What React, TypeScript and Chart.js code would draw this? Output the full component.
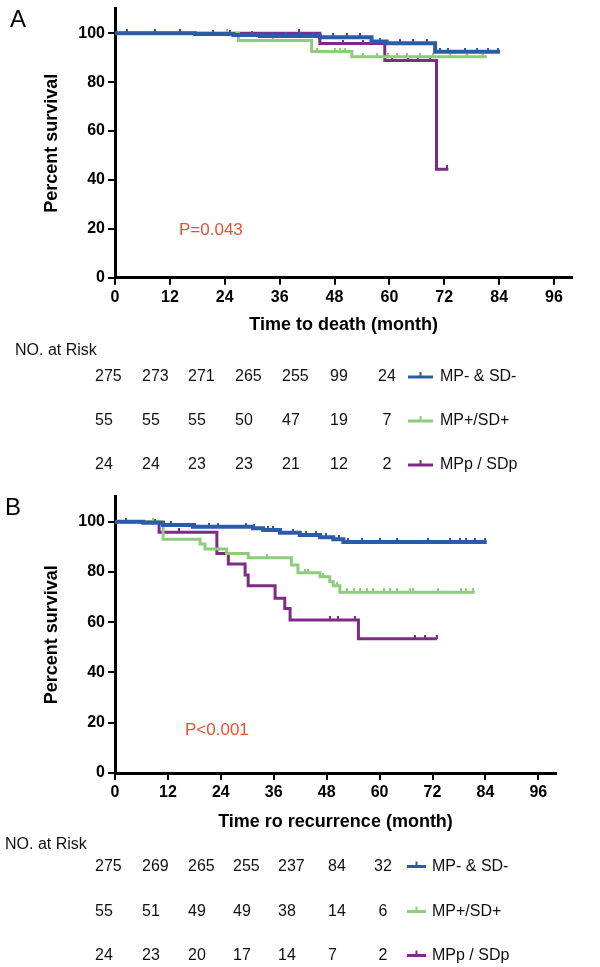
import React, { useEffect, useRef } from 'react';
import { Chart, registerables } from 'chart.js';
Chart.register(...registerables);

const FONT = '"Liberation Sans", Arial, Helvetica, sans-serif';

const GROUPS = ['MP- & SD-', 'MP+/SD+', 'MPp / SDp'];
const COLORS = ['#2C5CA8', '#8FCC7C', '#7D2B87'];
const X_TICKS = [0, 12, 24, 36, 48, 60, 72, 84, 96];
const Y_TICKS = [0, 20, 40, 60, 80, 100];

// ---------- Panel A: time to death ----------
const A_BLUE_T = [0, 17.5, 25.9, 31.7, 44.8, 56.1, 59.4, 70.0, 84.2];
const A_BLUE_S = [100, 99.7, 99.3, 98.9, 98.4, 96.6, 95.9, 92.4, 92.4];
const A_BLUE_CENS = [2.6, 8.7, 21.5, 25.1, 29.9, 32.4, 34.6, 37.5, 40.5, 43.4, 47.7, 50.7, 53.6, 57.9, 62.3, 65.2, 68.2, 71.1, 72.9, 76.5, 79.1, 81.6, 83.8];

const A_GREEN_T = [0, 27.0, 43.0, 51.8, 81.3];
const A_GREEN_S = [100, 97.0, 92.5, 90.4, 90.4];
const A_GREEN_CENS = [24.5, 34.6, 44.1, 48.2, 49.3, 50.4, 54.3, 57.2, 59.8, 61.6, 63.8, 66.7, 69.6, 73.3, 76.9, 80.5];

const A_PURPLE_T = [0, 44.8, 59.0, 70.3, 72.9];
const A_PURPLE_S = [100, 95.8, 88.8, 44.4, 44.4];
const A_PURPLE_CENS = [14.2, 40.3, 49.9, 54.3, 60.5, 64.1, 66.3, 68.9, 72.5];

const A_RISK_BLUE = [275, 273, 271, 265, 255, 99, 24];
const A_RISK_GREEN = [55, 55, 55, 50, 47, 19, 7];
const A_RISK_PURPLE = [24, 24, 23, 23, 21, 12, 2];

// ---------- Panel B: time to recurrence ----------
const B_BLUE_T = [0, 6.4, 10.9, 17.7, 31.3, 33.6, 37.4, 41.9, 46.5, 49.5, 51.8, 84.3];
const B_BLUE_S = [100, 99.6, 98.7, 98.0, 97.4, 96.7, 95.6, 94.7, 93.8, 93.0, 91.9, 91.9];
const B_BLUE_CENS = [2.5, 9.0, 12.8, 18.1, 21.4, 23.3, 29.7, 31.6, 34.6, 35.8, 37.6, 40.3, 43.3, 45.6, 47.9, 50.9, 52.8, 56.0, 60.0, 64.0, 71.0, 75.9, 78.2, 79.7, 81.6, 83.9];

const B_GREEN_T = [0, 10.9, 19.3, 20.4, 25.3, 30.2, 40.0, 41.5, 46.5, 48.7, 49.5, 51.0, 81.6];
const B_GREEN_S = [100, 93.0, 91.1, 89.1, 87.4, 85.7, 82.8, 79.7, 78.1, 76.1, 74.5, 71.9, 71.9];
const B_GREEN_CENS = [8.7, 34.4, 43.1, 43.8, 47.2, 50.3, 52.6, 54.1, 55.6, 57.1, 58.6, 60.9, 62.4, 63.9, 66.9, 67.6, 73.3, 78.5, 79.7, 81.2];

const B_PURPLE_T = [0, 10.0, 23.1, 25.7, 29.5, 30.2, 36.3, 38.5, 39.7, 55.2, 73.0];
const B_PURPLE_S = [100, 95.8, 87.4, 83.2, 78.8, 74.5, 69.5, 65.5, 60.9, 53.4, 53.4];
const B_PURPLE_CENS = [14.4, 48.8, 50.6, 54.4, 68.0, 70.3, 73.0];

const B_RISK_BLUE = [275, 269, 265, 255, 237, 84, 32];
const B_RISK_GREEN = [55, 51, 49, 49, 38, 14, 6];
const B_RISK_PURPLE = [24, 23, 20, 17, 14, 7, 2];

// ---------- layout specs ----------
const PANEL_A = {
  curves: [
    { t: A_BLUE_T, s: A_BLUE_S, c: A_BLUE_CENS },
    { t: A_GREEN_T, s: A_GREEN_S, c: A_GREEN_CENS },
    { t: A_PURPLE_T, s: A_PURPLE_S, c: A_PURPLE_CENS },
  ],
  risk: [A_RISK_BLUE, A_RISK_GREEN, A_RISK_PURPLE],
  xTitle: 'Time to death (month)',
  pText: 'P=0.043',
  letter: 'A',
  height: 485,
  padding: { left: 41, right: 27.7, top: 8.8, bottom: 149.3 },
  xHeight: 58,
  yWidth: 74,
  annot: {
    letterX: 10, letterY: 27,
    pX: 179, pY: 230,
    riskLabelX: 15, riskLabelY: 351,
    rowY: [377, 421, 465],
    colLeft: [95, 142, 188, 235, 282, 330],
    lastColCenter: 387,
    legLine: [408, 433], legTextX: 440,
  },
};

const PANEL_B = {
  curves: [
    { t: B_BLUE_T, s: B_BLUE_S, c: B_BLUE_CENS },
    { t: B_GREEN_T, s: B_GREEN_S, c: B_GREEN_CENS },
    { t: B_PURPLE_T, s: B_PURPLE_S, c: B_PURPLE_CENS },
  ],
  risk: [B_RISK_BLUE, B_RISK_GREEN, B_RISK_PURPLE],
  xTitle: 'Time ro recurrence (month)',
  pText: 'P<0.001',
  letter: 'B',
  height: 482,
  padding: { left: 41, right: 44, top: 11.6, bottom: 134 },
  xHeight: 60,
  yWidth: 74,
  annot: {
    letterX: 5, letterY: 30,
    pX: 185, pY: 245.5,
    riskLabelX: 5, riskLabelY: 360,
    rowY: [381.5, 426.5, 470.5],
    colLeft: [95, 142, 188, 233, 278, 328],
    lastColCenter: 383,
    legLine: [407, 426], legTextX: 432,
  },
};

function survAt(t: number[], s: number[], x: number) {
  let v = s[0];
  for (let i = 0; i < t.length; i++) if (t[i] <= x) v = s[i];
  return v;
}

function tickImage(color: string) {
  const c = document.createElement('canvas');
  c.width = 2;
  c.height = 8;
  const g = c.getContext('2d')!;
  g.fillStyle = color;
  g.fillRect(0, 0, 2, 4);
  return c;
}

const annotPlugin = {
  id: 'kmAnnot',
  afterDraw(chart: any, _args: any, opts: any) {
    const ctx = chart.ctx as CanvasRenderingContext2D;
    const a = opts.annot;
    ctx.save();
    ctx.fillStyle = '#000';
    ctx.font = `24px ${FONT}`;
    ctx.textAlign = 'left';
    ctx.textBaseline = 'alphabetic';
    ctx.fillText(opts.letter, a.letterX, a.letterY);

    ctx.textBaseline = 'middle';
    ctx.fillStyle = '#E9502F';
    ctx.font = `17px ${FONT}`;
    ctx.fillText(opts.pText, a.pX, a.pY);

    ctx.fillStyle = '#111';
    ctx.font = `16px ${FONT}`;
    ctx.fillText('NO. at Risk', a.riskLabelX, a.riskLabelY);

    opts.risk.forEach((row: number[], r: number) => {
      const y = a.rowY[r];
      ctx.fillStyle = '#111';
      row.forEach((v, c) => {
        if (c < a.colLeft.length) {
          ctx.textAlign = 'left';
          ctx.fillText(String(v), a.colLeft[c], y);
        } else {
          ctx.textAlign = 'center';
          ctx.fillText(String(v), a.lastColCenter, y);
        }
      });
      // legend entry
      ctx.strokeStyle = COLORS[r];
      ctx.lineWidth = 3;
      ctx.beginPath();
      ctx.moveTo(a.legLine[0], y);
      ctx.lineTo(a.legLine[1], y);
      ctx.stroke();
      const mid = (a.legLine[0] + a.legLine[1]) / 2;
      ctx.lineWidth = 2;
      ctx.beginPath();
      ctx.moveTo(mid, y);
      ctx.lineTo(mid, y - 5);
      ctx.stroke();
      ctx.textAlign = 'left';
      ctx.fillStyle = '#111';
      ctx.fillText(GROUPS[r], a.legTextX, y);
    });
    ctx.restore();
  },
};

function makeConfig(p: any) {
  const datasets: any[] = [];
  p.curves.forEach((cv: any, i: number) => {
    datasets.push({
      label: GROUPS[i],
      data: cv.t.map((t: number, k: number) => ({ x: t, y: cv.s[k] })),
      borderColor: COLORS[i],
      backgroundColor: COLORS[i],
      borderWidth: i === 0 ? 4 : 3,
      stepped: 'before',
      pointRadius: 0,
      fill: false,
      tension: 0,
    });
    datasets.push({
      label: GROUPS[i] + ' censored',
      data: cv.c.map((t: number) => ({ x: t, y: survAt(cv.t, cv.s, t) })),
      showLine: false,
      pointStyle: tickImage(COLORS[i]),
      pointRadius: 3,
      borderWidth: 0,
    });
  });

  const gridOpts = {
    display: true,
    drawOnChartArea: false,
    drawTicks: true,
    tickLength: 7,
    color: '#000',
    lineWidth: 2,
  };
  const borderOpts = { display: true, color: '#000', width: 3 };
  const tickFont = { family: FONT, size: 16, weight: 'bold' as const };
  const titleFont = { family: FONT, size: 18, weight: 'bold' as const };

  return {
    type: 'line' as const,
    data: { datasets },
    plugins: [annotPlugin],
    options: {
      animation: false,
      responsive: false,
      devicePixelRatio: 1,
      layout: { padding: p.padding },
      plugins: {
        legend: { display: false },
        tooltip: { enabled: false },
        kmAnnot: { annot: p.annot, risk: p.risk, letter: p.letter, pText: p.pText },
      },
      scales: {
        x: {
          type: 'linear',
          min: 0,
          max: 100,
          afterBuildTicks: (s: any) => {
            s.ticks = X_TICKS.map((v) => ({ value: v }));
          },
          afterFit: (s: any) => {
            s.height = p.xHeight;
            s.paddingLeft = 0;
            s.paddingRight = 0;
          },
          grid: gridOpts,
          border: borderOpts,
          ticks: { font: tickFont, color: '#000', padding: 3, autoSkip: false, maxRotation: 0 },
          title: { display: true, text: p.xTitle, font: titleFont, color: '#000', padding: 0 },
        },
        y: {
          type: 'linear',
          min: 0,
          max: 110,
          afterBuildTicks: (s: any) => {
            s.ticks = Y_TICKS.map((v) => ({ value: v }));
          },
          afterFit: (s: any) => {
            s.width = p.yWidth;
            s.paddingTop = 0;
            s.paddingBottom = 0;
          },
          grid: gridOpts,
          border: borderOpts,
          ticks: { font: tickFont, color: '#000', padding: 3, autoSkip: false },
          title: { display: true, text: 'Percent survival', font: titleFont, color: '#000', padding: 0 },
        },
      },
    },
  };
}

export default function App() {
  const refA = useRef<HTMLCanvasElement>(null);
  const refB = useRef<HTMLCanvasElement>(null);
  useEffect(() => {
    const a = new Chart(refA.current!, makeConfig(PANEL_A) as any);
    const b = new Chart(refB.current!, makeConfig(PANEL_B) as any);
    return () => {
      a.destroy();
      b.destroy();
    };
  }, []);
  return (
    <div style={{ position: 'fixed', left: 0, top: 0, width: 600, height: 967, background: '#fff' }}>
      <canvas
        ref={refA}
        width={600}
        height={PANEL_A.height}
        style={{ position: 'absolute', left: 0, top: 0, width: 600, height: PANEL_A.height }}
      />
      <canvas
        ref={refB}
        width={600}
        height={PANEL_B.height}
        style={{ position: 'absolute', left: 0, top: 485, width: 600, height: PANEL_B.height }}
      />
    </div>
  );
}
